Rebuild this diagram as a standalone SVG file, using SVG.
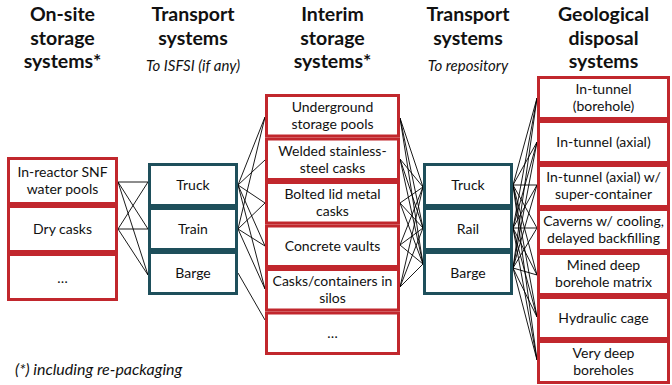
<svg xmlns="http://www.w3.org/2000/svg" width="672" height="385" viewBox="0 0 672 385">
<style>
.h{font-family:Lato,"Open Sans","Liberation Sans",sans-serif;font-weight:bold;font-size:19.5px;fill:#111;text-anchor:middle}
.s{font-family:Lato,"Open Sans","Liberation Sans",sans-serif;font-style:italic;font-size:15px;fill:#111;text-anchor:middle}
.t{font-family:Lato,"Open Sans","Liberation Sans",sans-serif;font-size:14px;fill:#111;text-anchor:middle}
.r{fill:#fff;stroke:#c1272d;stroke-width:3}
.g{fill:#fff;stroke:#1e4f5b;stroke-width:3}
.c line{stroke:#000;stroke-width:0.9}
</style>
<rect width="672" height="385" fill="#fff"/>
<g id="headers">
<text class="h" x="62.5" y="21">On-site</text>
<text class="h" x="62.5" y="44.5">storage</text>
<text class="h" x="62.5" y="68">systems*</text>
<text class="h" x="193" y="21">Transport</text>
<text class="h" x="193" y="44.5">systems</text>
<text class="s" x="193" y="71">To ISFSI (if any)</text>
<text class="h" x="332.5" y="21">Interim</text>
<text class="h" x="332.5" y="44.5">storage</text>
<text class="h" x="332.5" y="68">systems*</text>
<text class="h" x="468" y="21">Transport</text>
<text class="h" x="468" y="44.5">systems</text>
<text class="s" x="468" y="71">To repository</text>
<text class="h" x="603.5" y="21">Geological</text>
<text class="h" x="603.5" y="44.5">disposal</text>
<text class="h" x="603.5" y="68">systems</text>
</g>
<g id="connectors" class="c">
<line x1="118" y1="182" x2="148" y2="182"/>
<line x1="118" y1="182" x2="148" y2="229"/>
<line x1="118" y1="182" x2="148" y2="275"/>
<line x1="118" y1="229" x2="148" y2="182"/>
<line x1="118" y1="229" x2="148" y2="229"/>
<line x1="118" y1="229" x2="148" y2="275"/>
<line x1="238" y1="185" x2="265" y2="117"/>
<line x1="238" y1="185" x2="265" y2="160"/>
<line x1="238" y1="185" x2="265" y2="203"/>
<line x1="238" y1="185" x2="265" y2="246"/>
<line x1="238" y1="185" x2="265" y2="289"/>
<line x1="238" y1="229" x2="265" y2="117"/>
<line x1="238" y1="229" x2="265" y2="203"/>
<line x1="238" y1="229" x2="265" y2="246"/>
<line x1="238" y1="229" x2="265" y2="289"/>
<line x1="238" y1="273" x2="265" y2="320"/>
<line x1="400" y1="118" x2="423" y2="187"/>
<line x1="400" y1="118" x2="423" y2="228"/>
<line x1="400" y1="118" x2="423" y2="264"/>
<line x1="400" y1="159" x2="423" y2="187"/>
<line x1="400" y1="159" x2="423" y2="228"/>
<line x1="400" y1="159" x2="423" y2="264"/>
<line x1="400" y1="203" x2="423" y2="187"/>
<line x1="400" y1="203" x2="423" y2="228"/>
<line x1="400" y1="203" x2="423" y2="264"/>
<line x1="400" y1="245" x2="423" y2="187"/>
<line x1="400" y1="245" x2="423" y2="228"/>
<line x1="400" y1="245" x2="423" y2="264"/>
<line x1="400" y1="287" x2="423" y2="187"/>
<line x1="400" y1="287" x2="423" y2="228"/>
<line x1="400" y1="287" x2="423" y2="264"/>
<line x1="513" y1="185" x2="537" y2="98"/>
<line x1="513" y1="185" x2="537" y2="142"/>
<line x1="513" y1="185" x2="537" y2="185"/>
<line x1="513" y1="185" x2="537" y2="228"/>
<line x1="513" y1="185" x2="537" y2="275"/>
<line x1="513" y1="185" x2="537" y2="317"/>
<line x1="513" y1="185" x2="537" y2="360"/>
<line x1="513" y1="228" x2="537" y2="98"/>
<line x1="513" y1="228" x2="537" y2="142"/>
<line x1="513" y1="228" x2="537" y2="185"/>
<line x1="513" y1="228" x2="537" y2="228"/>
<line x1="513" y1="228" x2="537" y2="275"/>
<line x1="513" y1="228" x2="537" y2="317"/>
<line x1="513" y1="228" x2="537" y2="360"/>
<line x1="513" y1="268" x2="537" y2="98"/>
<line x1="513" y1="268" x2="537" y2="142"/>
<line x1="513" y1="268" x2="537" y2="185"/>
<line x1="513" y1="268" x2="537" y2="228"/>
<line x1="513" y1="268" x2="537" y2="275"/>
<line x1="513" y1="268" x2="537" y2="317"/>
<line x1="513" y1="268" x2="537" y2="360"/>
</g>
<g id="onsite-1"><rect class="r" x="8.5" y="158.5" width="108" height="45"/><text class="t" x="62.5" y="177">In-reactor SNF</text><text class="t" x="62.5" y="194">water pools</text></g>
<g id="onsite-2"><rect class="r" x="8.5" y="206.5" width="108" height="45"/><text class="t" x="62.5" y="234">Dry casks</text></g>
<g id="onsite-3"><rect class="r" x="8.5" y="254.5" width="108" height="45"/><text class="t" x="62.5" y="283">…</text></g>
<g id="t1-truck"><rect class="g" x="149.5" y="164.5" width="87" height="41"/><text class="t" x="193" y="190">Truck</text></g>
<g id="t1-train"><rect class="g" x="149.5" y="208.5" width="87" height="41"/><text class="t" x="193" y="234">Train</text></g>
<g id="t1-barge"><rect class="g" x="149.5" y="252.5" width="87" height="41"/><text class="t" x="193" y="278">Barge</text></g>
<g id="interim-1"><rect class="r" x="266.5" y="95.5" width="132" height="40.5"/><text class="t" x="332.5" y="112">Underground</text><text class="t" x="332.5" y="129">storage pools</text></g>
<g id="interim-2"><rect class="r" x="266.5" y="139" width="132" height="40.5"/><text class="t" x="332.5" y="155.5">Welded stainless-</text><text class="t" x="332.5" y="172.5">steel casks</text></g>
<g id="interim-3"><rect class="r" x="266.5" y="182.5" width="132" height="40.5"/><text class="t" x="332.5" y="199">Bolted lid metal</text><text class="t" x="332.5" y="216">casks</text></g>
<g id="interim-4"><rect class="r" x="266.5" y="226" width="132" height="40.5"/><text class="t" x="332.5" y="251">Concrete vaults</text></g>
<g id="interim-5"><rect class="r" x="266.5" y="269.5" width="132" height="40.5"/><text class="t" x="332.5" y="286">Casks/containers in</text><text class="t" x="332.5" y="303">silos</text></g>
<g id="interim-6"><rect class="r" x="266.5" y="313" width="132" height="40.5"/><text class="t" x="332.5" y="338">…</text></g>
<g id="t2-truck"><rect class="g" x="424.5" y="164.5" width="87" height="41"/><text class="t" x="468" y="190">Truck</text></g>
<g id="t2-rail"><rect class="g" x="424.5" y="208.5" width="87" height="41"/><text class="t" x="468" y="234">Rail</text></g>
<g id="t2-barge"><rect class="g" x="424.5" y="252.5" width="87" height="41"/><text class="t" x="468" y="278">Barge</text></g>
<g id="geo-1"><rect class="r" x="538.5" y="77.5" width="130" height="41"/><text class="t" x="603.5" y="93.5">In-tunnel</text><text class="t" x="603.5" y="110.5">(borehole)</text></g>
<g id="geo-2"><rect class="r" x="538.5" y="121.5" width="130" height="41"/><text class="t" x="603.5" y="147">In-tunnel (axial)</text></g>
<g id="geo-3"><rect class="r" x="538.5" y="165.5" width="130" height="41"/><text class="t" x="603.5" y="181.5">In-tunnel (axial) w/</text><text class="t" x="603.5" y="198.5">super-container</text></g>
<g id="geo-4"><rect class="r" x="538.5" y="209.5" width="130" height="41"/><text class="t" x="603.5" y="225.5">Caverns w/ cooling,</text><text class="t" x="603.5" y="242.5">delayed backfilling</text></g>
<g id="geo-5"><rect class="r" x="538.5" y="253.5" width="130" height="41"/><text class="t" x="603.5" y="269.5">Mined deep</text><text class="t" x="603.5" y="286.5">borehole matrix</text></g>
<g id="geo-6"><rect class="r" x="538.5" y="297.5" width="130" height="41"/><text class="t" x="603.5" y="323">Hydraulic cage</text></g>
<g id="geo-7"><rect class="r" x="538.5" y="341.5" width="130" height="41"/><text class="t" x="603.5" y="357.5">Very deep</text><text class="t" x="603.5" y="374.5">boreholes</text></g>
<text class="s" x="15" y="375" style="text-anchor:start;font-size:16px">(*) including re-packaging</text>
</svg>
